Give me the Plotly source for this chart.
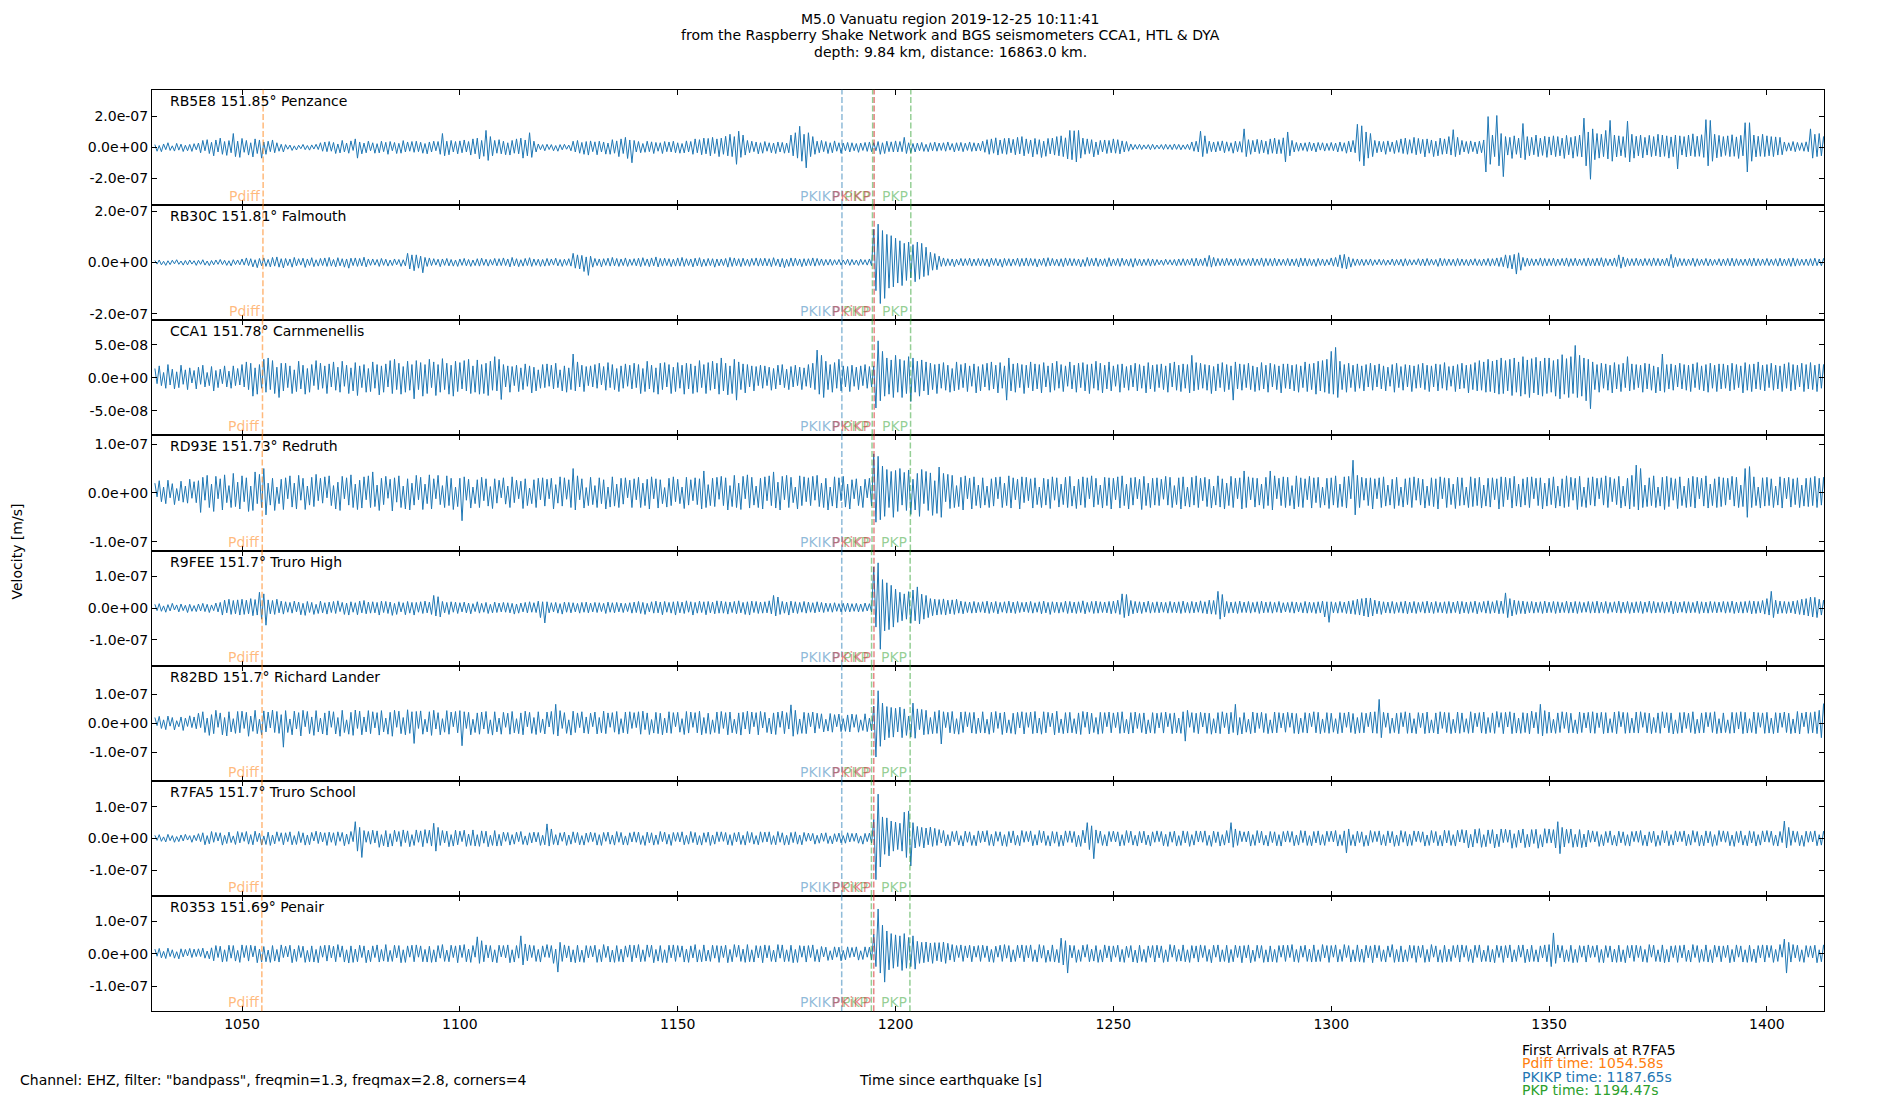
import numpy as np
import plotly.graph_objects as go
from plotly.subplots import make_subplots

# stations, top panel first
stations = ["RB5E8", "RB30C", "CCA1", "RD93E", "R9FEE", "R82BD", "R7FA5", "R0353"]
distances = ["151.85", "151.81", "151.78", "151.73", "151.7", "151.7", "151.7", "151.69"]
places = ["Penzance", "Falmouth", "Carnmenellis", "Redruth", "Truro High",
          "Richard Lander", "Truro School", "Penair"]

# phase arrival times [s] per station
pdiff_t = [1054.85, 1054.8, 1054.7, 1054.65, 1054.6, 1054.6, 1054.58, 1054.55]
pkikp_t = [1187.7, 1187.7, 1187.68, 1187.67, 1187.65, 1187.65, 1187.65, 1187.64]
pkikp_small_t = [1195.1, 1195.1, 1195.1, 1195.05, 1195.05, 1195.0, 1195.0, 1195.0]  # PKiKP
pkp_t = [1194.75, 1194.7, 1194.65, 1194.6, 1194.5, 1194.5, 1194.47, 1194.45]
pkp2_t = [1203.5, 1203.5, 1203.45, 1203.4, 1203.35, 1203.35, 1203.3, 1203.3]

# y half range [m/s] and tick step per panel
y_half = [3.74e-7, 2.25e-7, 8.74e-8, 1.18e-7, 1.82e-7, 2.0e-7, 1.82e-7, 1.78e-7]
y_step = [2e-7, 2e-7, 5e-8, 1e-7, 1e-7, 1e-7, 1e-7, 1e-7]
x_ticks = [1050, 1100, 1150, 1200, 1250, 1300, 1350, 1400]

t_start = 1030.0  # first sample [s]
t_step = 0.5      # sample spacing [s]

# filtered velocity, nm/s (one row = 10 s)
rb5e8 = [
    18,-25,12,-28,22,-15,30,-20,10,-24,26,-18,21,-27,14,-22,19,-26,24,-16,
    28,-35,45,-22,50,-40,33,-55,48,-30,60,-45,38,-52,44,-35,90,-60,40,-65,
    58,-32,45,-50,30,-62,55,-40,48,-70,35,-45,40,-28,48,-35,30,-25,20,-30,
    18,-12,15,-20,10,-17,14,-9,19,-15,12,-18,16,-11,20,-14,30,-25,35,-28,
    38,-25,32,-40,22,-36,45,-30,28,-38,42,-20,55,-70,35,-42,28,-35,40,-22,
    30,-38,24,-36,40,-28,33,-45,38,-22,32,-40,26,-38,44,-30,35,-25,38,-32,
    40,-28,33,-38,25,-42,35,-30,40,-22,38,-45,90,-55,40,-48,45,-30,38,-42,
    42,-35,48,-30,38,-50,55,-42,60,-75,45,-58,110,-85,70,-55,45,-38,50,-42,
    40,-48,30,-50,45,-38,55,-42,60,-70,48,-55,95,-65,40,-30,22,-15,18,-22,
    20,-14,18,-22,12,-25,18,-16,20,-12,15,-22,40,-30,45,-38,32,-45,38,-50,
    42,-28,36,-48,40,-30,35,-44,28,-45,50,-38,42,-60,55,-40,65,-72,48,-100,
    45,-30,38,-35,25,-32,40,-28,36,-40,32,-25,30,-40,38,-28,35,-30,40,-35,
    30,-38,25,-36,42,-30,38,-45,55,-35,50,-48,60,-42,58,-55,65,-40,55,-60,
    60,-45,72,-55,85,-60,70,-110,105,-65,80,-50,45,-35,40,-28,35,-42,30,-38,
    38,-25,30,-35,28,-40,35,-30,32,-38,28,-35,80,-55,95,-70,137,-90,85,-133,
    95,-60,70,-45,40,-35,45,-28,38,-40,30,-35,42,-25,30,-38,28,-22,32,-30,
    30,-22,25,-32,28,-20,32,-26,35,-28,30,-22,38,-45,30,-40,40,-28,36,-30,
    42,-30,38,-28,65,-40,30,-35,25,-30,28,-22,32,-26,20,-28,30,-22,34,-25,
    28,-20,30,-25,35,-18,25,-30,30,-22,32,-28,27,-20,35,-26,30,-24,28,-22,
    40,-32,50,-45,55,-38,62,-50,48,-40,58,-45,60,-35,52,-48,65,-42,70,-55,
    55,-40,48,-62,58,-45,50,-66,40,-58,58,-42,60,-50,70,-55,75,-60,62,-75,
    110,-80,108,-95,110,-70,60,-45,55,-40,50,-62,35,-48,45,-30,48,-40,45,-35,
    55,-38,50,-42,42,-30,38,-25,22,-15,18,-12,20,-14,16,-10,18,-15,20,-12,
    15,-10,18,-14,20,-12,17,-15,22,-13,19,-16,16,-12,20,-15,35,-25,40,-30,
    105,-60,75,-40,40,-28,35,-30,38,-22,42,-35,36,-25,30,-38,40,-28,38,-32,
    120,-60,50,-45,45,-30,52,-40,48,-35,40,-45,55,-38,60,-42,50,-40,62,-95,
    100,-55,45,-30,32,-25,28,-20,30,-26,35,-22,28,-30,32,-18,30,-24,26,-20,
    32,-22,28,-30,35,-25,30,-38,40,-30,45,-35,150,-90,140,-120,100,-70,90,-60,
    45,-35,40,-30,38,-45,42,-28,35,-40,45,-32,55,-40,60,-45,50,-38,65,-48,
    58,-40,52,-62,55,-38,48,-60,40,-55,60,-45,55,-42,70,-50,115,-60,65,-48,
    45,-30,38,-40,42,-28,35,-42,40,-35,48,-160,200,-110,80,-60,207,-120,90,-190,
    70,-50,65,-72,75,-45,60,-68,155,-80,70,-55,65,-48,80,-60,60,-52,72,-65,
    68,-50,75,-60,70,-55,60,-72,78,-48,65,-70,72,-58,80,-62,190,-120,100,-207,
    120,-80,90,-70,85,-60,110,-75,175,-90,80,-62,75,-55,70,-65,170,-95,85,-70,
    72,-55,80,-68,65,-50,78,-60,70,-55,85,-62,80,-58,75,-70,68,-60,80,-140,
    75,-50,70,-62,80,-55,88,-60,72,-58,82,-65,180,-120,175,-90,85,-68,78,-60,
    70,-52,75,-60,82,-58,68,-72,78,-55,160,-160,160,-90,80,-62,72,-58,85,-60,
    75,-55,70,-60,68,-50,65,-48,35,-25,30,-22,38,-28,32,-20,30,-25,36,-28,
    120,-70,85,-60,90,-55,70,-50,
]
rb30c = [
    8,-6,10,-9,5,-11,7,-8,9,-5,11,-7,6,-10,8,-9,10,-6,7,-11,
    9,-7,11,-10,6,-12,8,-9,10,-7,12,-8,9,-11,7,-13,11,-8,10,-9,
    14,-10,18,-12,15,-17,11,-20,16,-13,18,-15,12,-17,20,-14,22,-18,15,-21,
    16,-12,14,-18,20,-13,15,-10,17,-19,14,-12,19,-16,11,-14,16,-12,18,-15,
    20,-14,12,-17,19,-13,15,-18,14,-22,17,-12,18,-15,16,-13,21,-17,14,-11,
    14,-10,12,-15,16,-11,13,-14,10,-12,14,-9,12,-15,11,-13,36,-25,30,-32,
    30,-22,25,-40,20,-15,18,-12,15,-10,13,-16,14,-11,16,-13,12,-14,10,-15,
    14,-11,16,-13,12,-15,10,-12,15,-14,17,-11,13,-14,12,-10,16,-13,15,-12,
    18,-12,14,-17,20,-13,15,-16,11,-14,16,-12,19,-15,14,-11,13,-15,12,-14,
    16,-12,14,-10,17,-13,12,-15,13,-11,15,-14,36,-22,30,-25,28,-35,22,-50,
    25,-18,16,-12,14,-17,15,-11,17,-14,20,-13,16,-15,14,-12,18,-15,13,-11,
    15,-13,17,-16,19,-12,14,-16,18,-13,22,-17,16,-14,17,-12,15,-16,13,-14,
    18,-14,20,-15,15,-12,14,-17,17,-13,19,-16,13,-14,16,-12,15,-18,14,-13,
    14,-12,16,-18,20,-15,18,-13,15,-16,17,-12,13,-15,16,-11,18,-14,16,-13,
    17,-13,15,-16,19,-12,14,-17,16,-20,13,-15,18,-14,17,-12,14,-16,15,-13,
    15,-12,18,-14,16,-11,14,-12,12,-10,13,-11,11,-9,12,-10,10,-8,13,-11,
    12,-9,10,-11,13,-8,11,-10,14,-12,130,-110,150,-160,125,-140,110,-100,105,-95,
    95,-80,85,-90,75,-70,80,-60,70,-75,80,-65,75,-55,60,-50,40,-30,35,-28,
    25,-15,18,-14,15,-12,14,-16,13,-10,16,-13,15,-11,17,-14,14,-12,16,-13,
    15,-12,14,-16,17,-11,16,-13,13,-18,16,-12,15,-14,14,-11,17,-15,16,-13,
    18,-14,16,-12,15,-17,14,-11,17,-15,19,-13,16,-12,13,-14,15,-16,18,-12,
    16,-13,15,-12,14,-17,12,-15,20,-14,16,-13,18,-15,14,-12,15,-16,19,-14,
    14,-12,16,-15,17,-11,13,-14,15,-18,16,-12,14,-13,13,-11,15,-14,14,-12,
    12,-9,10,-11,13,-8,11,-10,12,-13,14,-11,15,-12,13,-10,16,-14,17,-13,
    14,-12,18,-15,28,-18,20,-14,16,-12,15,-13,17,-11,14,-12,15,-13,16,-12,
    13,-11,15,-13,17,-12,14,-11,18,-15,16,-12,15,-14,17,-13,14,-11,13,-12,
    16,-13,14,-12,15,-17,18,-13,17,-14,15,-12,13,-15,16,-11,14,-13,12,-10,
    18,-14,20,-16,30,-22,32,-25,22,-18,15,-12,14,-11,13,-12,12,-10,14,-12,
    11,-9,13,-10,12,-11,10,-9,14,-12,12,-10,13,-14,15,-12,12,-10,11,-9,
    15,-12,14,-13,16,-11,13,-10,12,-15,17,-13,15,-12,14,-11,13,-14,16,-12,
    14,-11,12,-13,13,-10,15,-12,12,-13,14,-11,16,-14,15,-12,18,-15,20,-16,
    30,-22,28,-25,32,-45,38,-30,20,-15,17,-13,15,-12,14,-11,18,-14,16,-13,
    15,-12,17,-14,14,-11,16,-13,18,-15,15,-12,17,-13,14,-11,16,-14,18,-13,
    15,-13,17,-12,19,-16,16,-12,14,-13,18,-15,30,-22,22,-16,16,-13,15,-12,
    17,-12,14,-13,16,-11,15,-14,18,-12,16,-13,14,-12,17,-14,32,-20,20,-15,
    16,-12,15,-13,14,-11,17,-15,15,-12,13,-11,16,-13,14,-12,12,-10,15,-13,
    14,-12,16,-13,17,-14,15,-12,13,-11,14,-12,16,-14,17,-13,15,-12,14,-11,
    16,-12,13,-11,15,-14,17,-13,14,-12,16,-15,18,-14,15,-12,13,-11,14,-12,
    15,-13,17,-12,14,-13,16,-12,
]
cca1 = [
    14,-9,18,-12,8,-16,20,-11,13,-17,9,-15,19,-10,12,-18,15,-8,11,-17,
    16,-10,19,-14,8,-12,17,-20,11,-15,13,-9,18,-14,10,-16,18,-12,14,-11,
    20,-14,24,-18,22,-28,15,-25,20,-16,28,-22,30,-18,26,-24,16,-30,22,-20,
    22,-15,18,-24,12,-21,25,-17,19,-25,14,-22,20,-12,26,-18,22,-16,18,-24,
    21,-14,24,-19,16,-22,25,-13,19,-24,15,-20,23,-27,18,-15,20,-22,14,-21,
    24,-16,20,-26,18,-22,21,-14,26,-24,28,-18,22,-25,17,-22,25,-19,20,-32,
    26,-18,23,-28,20,-24,28,-15,24,-27,20,-22,29,-18,22,-25,19,-28,25,-21,
    23,-17,26,-20,28,-24,18,-22,27,-25,20,-24,22,-27,25,-19,32,-20,28,-33,
    20,-14,18,-22,17,-12,19,-21,15,-18,21,-13,18,-23,16,-20,12,-16,20,-15,
    21,-13,19,-17,22,-15,12,-20,18,-22,15,-18,36,-20,24,-14,19,-21,17,-12,
    18,-14,20,-16,22,-11,17,-19,23,-15,20,-18,14,-21,18,-16,21,-13,19,-17,
    22,-15,20,-24,14,-21,25,-17,19,-22,15,-25,22,-18,23,-14,20,-24,16,-21,
    23,-16,19,-25,22,-17,21,-24,18,-22,26,-15,20,-24,23,-19,25,-17,22,-25,
    30,-20,22,-26,18,-24,28,-34,24,-18,21,-23,20,-14,18,-20,17,-12,19,-16,
    18,-12,16,-19,14,-17,19,-11,20,-15,13,-18,17,-14,19,-12,16,-18,15,-13,
    20,-15,22,-18,42,-25,34,-30,25,-18,20,-22,23,-16,28,-20,18,-14,17,-21,
    19,-13,16,-18,18,-12,20,-16,17,-14,18,-46,56,-35,40,-28,30,-25,27,-30,
    34,-22,28,-30,26,-24,32,-36,30,-22,25,-28,27,-20,24,-26,22,-18,20,-24,
    21,-16,23,-19,19,-22,14,-20,24,-18,20,-15,22,-21,18,-13,21,-23,17,-20,
    20,-14,22,-19,24,-17,19,-23,23,-16,18,-34,30,-20,21,-22,22,-15,20,-24,
    19,-15,24,-20,21,-17,20,-23,23,-14,18,-22,22,-19,25,-16,20,-21,18,-13,
    24,-17,19,-22,22,-15,23,-20,20,-24,21,-16,25,-19,22,-23,19,-17,24,-20,
    18,-13,20,-22,21,-15,17,-19,19,-14,22,-20,20,-16,18,-23,23,-17,19,-21,
    20,-15,21,-18,18,-22,22,-14,24,-19,19,-21,21,-16,20,-23,34,-20,23,-18,
    22,-16,20,-19,19,-24,17,-20,21,-15,23,-21,20,-18,18,-34,24,-17,21,-19,
    20,-15,22,-18,18,-21,16,-19,23,-17,19,-22,22,-14,20,-18,18,-23,21,-16,
    21,-17,19,-20,20,-22,18,-15,24,-21,21,-18,22,-25,25,-20,26,-22,28,-24,
    40,-25,46,-30,25,-18,20,-22,22,-15,19,-21,21,-16,18,-20,20,-14,22,-19,
    19,-14,21,-17,18,-20,16,-13,20,-22,22,-15,17,-19,20,-14,19,-21,18,-16,
    20,-15,22,-18,19,-21,18,-14,21,-20,20,-16,23,-19,17,-13,18,-21,20,-17,
    22,-16,19,-23,20,-18,23,-20,26,-19,24,-22,28,-21,25,-23,27,-25,30,-24,
    26,-20,28,-27,30,-22,24,-28,32,-25,27,-30,29,-23,31,-26,25,-28,30,-24,
    30,-22,26,-28,28,-32,35,-25,29,-30,32,-24,49,-30,34,-28,30,-35,28,-47,
    24,-18,20,-22,22,-16,21,-19,19,-23,23,-17,20,-21,22,-15,32,-20,21,-18,
    20,-15,19,-22,22,-17,21,-19,18,-23,16,-20,36,-22,20,-17,21,-19,19,-14,
    22,-17,20,-19,19,-21,21,-15,23,-18,18,-20,20,-22,22,-16,19,-21,21,-17,
    21,-16,19,-20,22,-18,20,-15,18,-23,23,-19,20,-21,21,-17,24,-18,19,-20,
    20,-15,22,-19,19,-17,18,-21,21,-16,23,-20,20,-18,19,-14,22,-21,20,-17,
    23,-18,19,-21,21,-16,20,-19,
]
rd93e = [
    20,-8,25,-18,12,-22,26,-10,19,-24,9,-16,24,-19,14,-21,28,-11,23,-20,
    25,-40,32,-15,36,-30,18,-38,34,-12,29,-35,37,-20,15,-30,40,-28,22,-33,
    35,-18,31,-38,14,-36,43,-22,38,-30,50,-45,20,-25,30,-36,12,-22,28,-34,
    31,-12,35,-29,20,-33,36,-15,30,-34,14,-25,32,-28,38,-16,30,-21,33,-10,
    35,-26,15,-33,22,-36,34,-12,31,-25,37,-30,18,-34,26,-31,33,-14,35,-30,
    43,-28,16,-36,30,-24,34,-11,28,-37,31,-19,35,-30,14,-33,29,-35,20,-25,
    36,-14,32,-34,18,-22,37,-33,29,-12,36,-24,15,-30,35,-26,30,-34,12,-28,
    30,-57,33,-15,28,-31,12,-22,27,-30,32,-16,29,-27,13,-32,29,-21,26,-10,
    31,-23,14,-30,33,-20,26,-12,24,-32,29,-26,10,-22,27,-30,30,-14,31,-27,
    28,-12,30,-33,17,-21,33,-27,31,-13,27,-30,50,-35,35,-14,29,-31,11,-26,
    32,-24,15,-30,31,-22,27,-33,12,-29,33,-27,18,-30,30,-23,31,-10,26,-30,
    29,-14,32,-30,20,-26,28,-33,33,-12,29,-31,27,-22,11,-29,30,-26,33,-18,
    28,-22,12,-32,32,-25,27,-16,31,-24,29,-33,45,-30,17,-26,30,-28,32,-13,
    34,-26,31,-35,15,-28,36,-30,20,-34,34,-12,37,-31,32,-25,14,-30,30,-33,
    33,-16,35,-26,43,-31,22,-35,34,-14,36,-30,32,-20,12,-33,35,-26,33,-18,
    31,-26,34,-15,36,-28,20,-30,30,-35,12,-27,33,-31,31,-16,34,-29,18,-33,
    27,-12,29,-26,14,-30,28,-10,30,-27,80,-60,75,-55,55,-48,48,-30,44,-50,
    46,-38,50,-25,42,-36,47,-44,28,-35,40,-48,48,-22,44,-36,41,-46,25,-42,
    53,-50,40,-18,38,-32,36,-30,15,-28,32,-35,35,-12,30,-33,33,-26,16,-31,
    31,-25,14,-30,29,-27,32,-12,33,-30,20,-26,35,-31,31,-14,28,-33,33,-20,
    32,-16,29,-31,31,-24,12,-30,30,-25,28,-32,33,-15,31,-29,18,-24,32,-30,
    34,-27,14,-32,28,-25,33,-30,31,-12,35,-29,30,-24,16,-31,32,-26,31,-33,
    30,-14,33,-31,35,-26,18,-33,31,-25,32,-12,28,-34,34,-26,20,-30,30,-25,
    31,-26,28,-13,34,-25,32,-30,15,-24,31,-33,33,-27,12,-29,32,-25,35,-30,
    30,-16,32,-28,28,-31,14,-25,35,-29,29,-33,20,-26,34,-30,30,-12,31,-33,
    45,-30,33,-14,31,-29,30,-25,18,-32,32,-26,45,-35,35,-12,30,-26,33,-30,
    32,-26,15,-33,35,-28,31,-30,29,-14,34,-31,31,-20,32,-30,12,-25,30,-32,
    31,-25,35,-30,18,-28,33,-31,34,-12,67,-45,36,-30,32,-15,30,-26,31,-33,
    29,-12,31,-30,33,-27,16,-25,28,-32,32,-26,12,-29,29,-24,31,-30,33,-15,
    30,-25,28,-31,14,-26,31,-28,29,-33,33,-12,31,-30,30,-24,18,-32,32,-26,
    31,-25,12,-30,33,-28,30,-26,32,-31,16,-27,30,-29,31,-14,29,-33,33,-28,
    32,-14,30,-31,34,-27,18,-29,29,-25,32,-30,33,-12,30,-26,31,-33,20,-27,
    30,-24,33,-31,14,-27,29,-30,35,-28,32,-15,30,-34,34,-28,12,-30,31,-25,
    33,-27,30,-12,31,-25,35,-30,32,-18,29,-24,34,-31,14,-27,30,-33,36,-28,
    57,-35,50,-30,16,-28,31,-26,35,-30,12,-27,32,-34,34,-28,31,-15,29,-32,
    33,-26,14,-30,30,-28,34,-31,32,-12,30,-27,35,-31,18,-26,29,-30,33,-28,
    31,-25,30,-14,34,-27,32,-30,16,-28,50,-50,54,-30,33,-26,12,-31,31,-27,
    32,-26,29,-30,14,-25,33,-31,30,-12,32,-29,29,-24,31,-30,16,-27,30,-28,
    31,-26,34,-30,30,-25,32,-29,
]
r9fee = [
    12,-8,14,-10,7,-13,11,-9,15,-6,10,-12,13,-8,9,-14,12,-10,8,-11,
    13,-9,15,-11,12,-14,10,-8,16,-12,18,-22,25,-15,28,-20,24,-18,26,-22,
    28,-20,25,-18,30,-24,27,-22,50,-35,45,-54,26,-18,24,-20,28,-15,22,-19,
    20,-13,18,-16,22,-12,19,-21,15,-23,21,-14,18,-20,12,-17,22,-15,17,-19,
    19,-14,21,-17,23,-11,18,-20,16,-22,20,-13,17,-21,22,-15,24,-18,19,-16,
    20,-15,18,-22,22,-14,21,-17,19,-23,15,-20,20,-12,17,-21,21,-16,18,-22,
    18,-13,20,-17,22,-15,19,-20,40,-25,36,-28,21,-15,18,-20,20,-13,19,-17,
    17,-12,19,-15,16,-18,14,-11,20,-16,15,-13,18,-17,12,-15,19,-14,16,-12,
    18,-13,17,-15,15,-19,13,-16,16,-12,18,-15,20,-13,17,-14,22,-30,20,-47,
    20,-15,17,-12,18,-16,14,-19,19,-13,18,-15,17,-12,15,-16,18,-13,19,-15,
    16,-12,18,-14,17,-11,15,-17,19,-13,17,-15,18,-12,16,-14,15,-11,17,-16,
    19,-14,21,-17,18,-20,15,-12,20,-16,22,-15,19,-21,21,-13,18,-16,20,-22,
    21,-15,19,-17,23,-13,20,-22,18,-16,22,-14,20,-21,21,-15,19,-18,23,-16,
    22,-16,20,-19,19,-14,21,-18,23,-15,18,-20,20,-22,22,-14,21,-17,19,-16,
    20,-15,23,-18,40,-25,35,-20,21,-16,19,-22,22,-15,20,-17,18,-13,21,-16,
    19,-13,17,-15,20,-12,18,-14,16,-11,15,-13,17,-10,14,-12,15,-11,16,-12,
    14,-10,15,-12,13,-11,16,-9,14,-12,130,-60,143,-130,90,-72,80,-68,72,-60,
    60,-45,50,-40,45,-35,52,-48,57,-40,67,-50,44,-35,40,-30,30,-24,28,-22,
    27,-20,29,-22,25,-18,26,-20,28,-16,22,-18,20,-14,19,-16,21,-15,18,-13,
    20,-15,22,-17,19,-14,21,-18,18,-13,20,-16,22,-15,19,-17,21,-14,18,-12,
    19,-14,21,-16,17,-13,20,-18,22,-15,18,-20,20,-14,19,-16,18,-13,22,-17,
    21,-15,19,-17,20,-14,23,-18,18,-13,21,-17,22,-16,20,-14,19,-15,21,-18,
    22,-16,25,-20,45,-30,43,-25,24,-18,21,-15,20,-17,19,-13,22,-16,18,-14,
    20,-15,19,-13,18,-16,21,-14,19,-15,20,-17,22,-14,18,-16,21,-15,19,-13,
    23,-16,20,-18,25,-19,24,-20,53,-35,43,-28,21,-16,19,-15,20,-17,22,-14,
    19,-14,21,-16,18,-13,20,-17,22,-15,19,-14,20,-16,18,-13,21,-15,17,-12,
    18,-14,20,-16,19,-12,17,-15,21,-16,19,-14,18,-17,20,-15,22,-28,20,-45,
    20,-15,18,-16,21,-14,19,-17,22,-18,24,-20,28,-22,30,-25,32,-28,32,-25,
    25,-18,22,-20,20,-15,19,-16,21,-17,18,-14,20,-16,22,-18,19,-15,21,-17,
    18,-13,20,-16,22,-15,19,-17,21,-14,18,-15,20,-17,21,-16,19,-14,22,-18,
    21,-15,19,-17,20,-14,22,-18,18,-13,21,-16,23,-17,20,-15,24,-18,22,-17,
    48,-30,30,-25,25,-20,23,-17,22,-18,20,-15,21,-16,19,-14,20,-17,22,-15,
    19,-14,21,-17,20,-15,18,-14,22,-16,19,-15,21,-17,20,-14,18,-13,21,-16,
    20,-15,22,-16,19,-14,21,-17,18,-13,20,-15,22,-16,19,-14,21,-17,18,-15,
    20,-14,21,-17,19,-13,22,-16,21,-15,18,-14,20,-16,19,-13,22,-18,20,-15,
    19,-13,21,-16,20,-15,18,-14,22,-17,20,-15,19,-16,21,-14,20,-15,19,-13,
    21,-16,20,-14,22,-17,19,-15,20,-16,21,-14,23,-18,22,-17,21,-15,24,-19,
    30,-22,53,-30,25,-18,22,-16,21,-17,20,-15,22,-18,24,-20,28,-22,30,-25,
    35,-28,34,-30,28,-22,25,-20,
]
r82bd = [
    20,-8,24,-18,12,-22,25,-10,20,-23,9,-12,22,-25,18,-11,26,-15,22,-19,
    35,-15,40,-32,18,-42,30,-36,45,-14,36,-40,20,-44,40,-30,16,-35,41,-33,
    42,-18,38,-45,25,-28,45,-36,14,-40,43,-30,39,-16,46,-32,41,-35,30,-83,
    44,-32,15,-40,42,-20,37,-44,45,-12,41,-36,22,-42,44,-30,18,-37,36,-41,
    43,-14,40,-37,20,-45,45,-32,12,-38,38,-42,46,-18,42,-40,22,-30,44,-36,
    40,-16,37,-41,44,-30,18,-38,38,-45,45,-14,42,-36,20,-40,47,-35,40,-70,
    41,-18,43,-38,14,-30,40,-42,45,-20,37,-40,16,-31,44,-38,39,-12,41,-33,
    44,-78,40,-18,38,-40,14,-32,36,-38,39,-20,41,-36,12,-41,40,-30,18,-38,
    38,-14,35,-38,41,-33,16,-36,36,-40,42,-12,38,-35,20,-39,40,-32,15,-37,
    39,-13,41,-38,66,-44,44,-18,37,-35,12,-41,42,-32,36,-15,40,-34,22,-36,
    35,-12,39,-37,20,-33,42,-36,36,-14,37,-31,41,-38,16,-33,39,-36,40,-18,
    37,-15,40,-38,42,-22,36,-39,13,-34,38,-36,35,-40,18,-33,40,-35,37,-12,
    38,-31,16,-39,41,-34,39,-14,37,-33,42,-40,20,-35,35,-38,12,-32,39,-36,
    41,-18,37,-40,39,-33,14,-36,36,-41,38,-20,42,-37,39,-12,37,-40,41,-16,
    38,-32,18,-37,36,-39,39,-14,42,-36,37,-20,64,-45,45,-38,15,-35,38,-36,
    36,-12,39,-34,35,-18,33,-30,14,-27,34,-31,30,-12,32,-29,16,-28,29,-30,
    32,-14,30,-31,12,-25,33,-29,18,-27,60,-117,113,-80,70,-58,58,-50,55,-48,
    52,-30,56,-50,50,-42,25,-48,70,-52,50,-22,48,-40,45,-38,20,-36,40,-35,
    45,-72,40,-15,38,-33,41,-36,16,-38,39,-32,40,-12,37,-34,38,-36,18,-33,
    40,-34,14,-38,38,-32,41,-18,36,-39,39,-33,12,-35,35,-38,38,-16,40,-37,
    37,-14,39,-36,41,-34,18,-38,40,-33,38,-12,35,-40,42,-33,15,-36,37,-34,
    38,-33,16,-36,36,-39,41,-14,39,-37,35,-32,20,-38,38,-35,37,-12,39,-33,
    36,-15,38,-35,40,-33,14,-37,37,-34,39,-18,34,-32,36,-37,12,-33,37,-35,
    35,-16,37,-34,39,-12,34,-36,36,-33,18,-35,40,-62,45,-14,37,-32,35,-36,
    38,-13,36,-35,35,-38,16,-34,37,-36,40,-15,36,-37,38,-32,66,-41,20,-37,
    37,-31,14,-36,39,-33,36,-18,38,-32,34,-36,12,-34,39,-33,37,-16,35,-31,
    38,-14,36,-35,34,-37,18,-32,37,-34,35,-12,40,-33,38,-36,15,-32,37,-35,
    35,-31,16,-36,37,-33,36,-14,39,-32,34,-36,20,-34,37,-33,35,-12,39,-34,
    40,-35,83,-50,38,-14,36,-35,18,-32,35,-36,37,-12,40,-35,36,-34,16,-36,
    37,-15,35,-36,39,-34,12,-33,36,-37,40,-18,38,-32,37,-36,14,-33,39,-35,
    36,-31,16,-35,40,-33,35,-12,37,-34,39,-36,20,-32,36,-35,41,-14,37,-36,
    38,-13,40,-36,36,-34,18,-35,37,-32,35,-37,42,-16,38,-36,66,-44,44,-35,
    39,-33,14,-35,36,-32,40,-18,38,-34,35,-33,12,-36,39,-32,36,-16,38,-34,
    40,-35,36,-15,38,-36,37,-34,16,-32,39,-36,41,-12,38,-35,37,-34,18,-33,
    39,-34,40,-14,37,-33,35,-36,20,-32,36,-35,40,-16,37,-33,36,-37,12,-35,
    37,-33,38,-18,35,-32,40,-36,14,-34,36,-33,38,-12,37,-32,40,-36,16,-34,
    36,-32,12,-35,38,-34,37,-20,40,-36,38,-34,16,-32,39,-36,37,-14,36,-35,
    38,-34,18,-36,37,-33,36,-14,39,-32,35,-36,15,-34,41,-37,36,-12,39,-35,
    37,-33,40,-36,45,-50,68,-40,
]
r7fa5 = [
    10,-6,12,-9,5,-11,13,-7,9,-12,6,-10,11,-8,13,-5,9,-12,10,-7,
    15,-10,18,-20,9,-17,22,-12,19,-8,18,-21,10,-16,20,-13,8,-19,22,-14,
    19,-9,22,-18,12,-20,23,-10,17,-21,8,-19,20,-22,11,-17,21,-9,18,-20,
    18,-10,21,-20,9,-19,22,-13,18,-21,11,-20,19,-8,23,-16,20,-11,18,-22,
    20,-12,18,-22,21,-9,19,-23,14,-18,22,-10,53,-40,35,-60,25,-12,22,-18,
    26,-14,24,-28,12,-23,25,-27,15,-24,26,-10,22,-25,27,-13,24,-26,12,-22,
    27,-12,24,-26,28,-15,26,-24,48,-40,35,-22,25,-14,23,-26,12,-24,26,-20,
    23,-10,26,-25,14,-22,27,-24,12,-25,24,-15,23,-26,10,-22,25,-24,13,-23,
    20,-9,19,-21,12,-18,20,-10,22,-19,8,-21,18,-14,20,-11,19,-22,10,-20,
    46,-24,30,-19,12,-21,18,-9,20,-22,11,-18,21,-13,19,-20,9,-21,17,-12,
    20,-10,18,-21,12,-22,19,-9,20,-18,11,-21,22,-12,19,-20,8,-21,18,-11,
    21,-12,20,-19,9,-22,20,-14,18,-21,11,-19,22,-10,20,-18,13,-22,19,-9,
    19,-11,21,-20,10,-18,22,-13,19,-20,9,-21,18,-12,20,-22,11,-18,21,-10,
    21,-9,19,-20,12,-22,18,-11,20,-19,10,-21,22,-13,19,-18,9,-20,21,-12,
    20,-11,21,-19,9,-20,22,-12,18,-21,10,-20,19,-13,21,-18,11,-20,19,-9,
    17,-8,16,-18,10,-15,17,-9,18,-16,8,-17,15,-10,17,-14,9,-15,18,-11,
    16,-9,17,-15,8,-18,16,-10,17,-14,60,-130,140,-90,68,-50,65,-55,55,-40,
    52,-35,48,-40,83,-60,87,-87,50,-30,38,-25,35,-30,33,-20,36,-25,32,-22,
    28,-14,25,-24,12,-23,22,-10,24,-21,9,-24,23,-12,21,-22,10,-23,24,-13,
    23,-11,25,-22,13,-24,22,-9,21,-23,12,-25,22,-14,24,-21,10,-23,25,-12,
    22,-10,24,-23,12,-21,25,-13,23,-22,9,-24,22,-15,21,-25,11,-23,24,-12,
    24,-13,22,-26,10,-25,26,-14,50,-35,40,-64,27,-15,23,-22,12,-24,22,-10,
    23,-11,21,-24,12,-22,25,-13,23,-21,10,-24,22,-14,23,-20,11,-24,21,-12,
    24,-10,22,-23,13,-25,21,-12,23,-24,9,-22,24,-14,22,-25,12,-21,24,-11,
    23,-12,24,-22,10,-25,23,-13,21,-24,12,-21,25,-14,50,-28,30,-22,24,-10,
    21,-11,23,-24,12,-22,25,-14,23,-21,10,-24,22,-13,21,-23,12,-24,22,-11,
    24,-12,22,-23,11,-21,25,-13,24,-22,9,-23,22,-14,24,-21,12,-22,23,-10,
    23,-11,25,-24,12,-22,24,-46,30,-22,12,-24,23,-13,21,-25,10,-23,25,-12,
    22,-10,24,-21,12,-23,24,-14,22,-25,11,-23,25,-12,22,-24,13,-22,24,-10,
    23,-12,21,-24,11,-22,25,-13,22,-23,10,-24,26,-14,25,-22,12,-24,26,-11,
    28,-14,26,-30,13,-27,29,-15,31,-28,12,-26,27,-16,28,-30,14,-26,30,-13,
    29,-12,27,-31,15,-28,26,-14,30,-29,13,-27,28,-16,29,-31,12,-27,31,-15,
    30,-14,28,-30,53,-48,35,-27,29,-15,30,-28,13,-26,28,-29,14,-27,26,-12,
    24,-11,22,-25,12,-23,22,-13,24,-21,10,-24,23,-14,21,-22,12,-24,22,-10,
    23,-12,25,-22,11,-24,21,-13,23,-25,10,-22,25,-14,24,-23,12,-21,24,-11,
    22,-10,24,-23,13,-21,25,-12,22,-24,11,-23,24,-14,22,-25,12,-22,25,-10,
    24,-12,22,-23,11,-25,22,-13,24,-21,10,-23,24,-14,22,-24,12,-21,24,-11,
    25,-12,23,-22,11,-24,22,-13,55,-30,35,-22,24,-12,22,-23,10,-25,23,-12,
    22,-11,24,-23,12,-21,23,-10,
]
r0353 = [
    14,-8,16,-13,7,-15,17,-9,12,-14,6,-16,15,-10,13,-7,16,-12,14,-9,
    15,-9,17,-14,8,-16,18,-22,25,-12,23,-26,12,-24,26,-14,25,-23,10,-27,
    27,-12,25,-23,26,-10,24,-28,14,-26,22,-25,11,-27,25,-23,13,-26,27,-12,
    23,-10,26,-28,14,-24,25,-12,23,-27,10,-25,24,-26,13,-28,24,-11,26,-23,
    26,-13,23,-25,28,-11,24,-26,12,-29,24,-27,14,-25,26,-12,24,-28,11,-25,
    24,-12,27,-26,13,-23,28,-25,10,-24,26,-13,25,-28,12,-27,24,-11,26,-25,
    27,-11,24,-25,13,-26,23,-27,12,-26,25,-14,28,-24,11,-25,26,-12,24,-28,
    26,-12,28,-25,14,-27,25,-11,52,-30,40,-25,27,-13,25,-26,12,-28,26,-10,
    25,-13,27,-28,12,-26,25,-14,55,-35,30,-22,27,-12,25,-24,13,-26,24,-11,
    28,-12,25,-30,14,-57,35,-24,27,-13,24,-26,12,-28,26,-25,11,-27,25,-13,
    24,-10,26,-27,13,-25,28,-12,23,-26,11,-27,25,-24,14,-26,24,-11,27,-25,
    26,-13,28,-25,12,-24,27,-11,26,-28,13,-23,25,-27,12,-28,26,-13,27,-24,
    25,-11,24,-26,14,-27,24,-13,28,-26,12,-25,27,-23,11,-24,26,-14,25,-27,
    24,-12,26,-28,13,-25,28,-11,26,-24,14,-27,28,-25,12,-26,25,-13,24,-28,
    27,-13,25,-24,11,-26,28,-14,27,-25,12,-24,26,-28,13,-27,25,-11,24,-26,
    25,-12,27,-24,13,-26,22,-10,20,-21,9,-19,21,-11,20,-22,10,-19,21,-12,
    19,-10,21,-20,9,-18,21,-11,20,-19,60,-40,138,-60,88,-88,70,-50,62,-45,
    58,-40,55,-52,62,-45,50,-40,55,-48,38,-30,35,-28,36,-25,33,-30,34,-22,
    34,-25,36,-30,32,-20,28,-25,25,-12,27,-24,24,-13,26,-25,23,-11,25,-24,
    26,-12,24,-25,13,-27,23,-11,26,-24,28,-14,25,-26,12,-24,26,-13,27,-25,
    25,-13,27,-24,12,-26,28,-14,25,-27,11,-24,27,-26,13,-28,48,-35,40,-60,
    26,-13,25,-27,12,-24,26,-11,28,-25,14,-23,25,-27,12,-26,27,-13,24,-25,
    24,-11,26,-25,13,-27,23,-12,25,-26,11,-28,26,-24,13,-27,24,-12,25,-26,
    26,-13,24,-27,12,-25,28,-11,26,-24,13,-23,27,-25,12,-27,25,-14,24,-26,
    27,-12,25,-24,13,-28,26,-11,27,-25,12,-24,26,-28,13,-25,26,-12,24,-28,
    25,-13,27,-28,11,-24,26,-14,25,-27,12,-26,24,-25,13,-27,25,-11,26,-24,
    26,-12,28,-25,13,-27,24,-11,26,-24,14,-26,27,-25,12,-24,28,-13,25,-27,
    25,-11,27,-26,13,-24,28,-12,25,-26,12,-24,27,-25,14,-27,26,-13,24,-28,
    27,-13,25,-24,12,-26,24,-11,28,-27,13,-25,24,-26,12,-24,26,-14,25,-27,
    24,-12,26,-27,13,-25,28,-11,24,-26,12,-27,26,-25,14,-24,25,-12,27,-26,
    27,-11,25,-24,13,-28,26,-12,27,-25,11,-24,25,-26,13,-28,26,-12,24,-27,
    25,-13,27,-26,12,-24,26,-11,27,-28,14,-25,26,-24,12,-26,24,-13,27,-25,
    28,-40,64,-30,27,-13,25,-26,12,-24,26,-28,13,-27,25,-11,24,-26,27,-12,
    24,-11,26,-27,13,-28,25,-12,24,-26,14,-27,26,-25,12,-28,25,-13,26,-24,
    26,-12,24,-25,13,-27,28,-11,26,-24,12,-25,27,-28,13,-26,24,-12,25,-27,
    25,-13,27,-24,11,-26,28,-12,25,-27,13,-24,27,-26,12,-28,26,-11,24,-25,
    24,-12,26,-28,13,-25,27,-11,24,-26,12,-27,26,-24,14,-28,25,-13,27,-26,
    26,-12,25,-27,13,-24,28,-11,45,-60,35,-26,28,-13,26,-24,12,-27,25,-11,
    24,-13,26,-28,12,-25,27,-11,
]
traces = [rb5e8, rb30c, cca1, rd93e, r9fee, r82bd, r7fa5, r0353]

FONT = "DejaVu Sans"
C_TRACE = "#1f77b4"
phases = [
    ("Pdiff", pdiff_t, "rgba(255,127,14,0.55)"),
    ("PKIKP", pkikp_t, "rgba(31,119,180,0.5)"),
    ("PKP", pkp_t, "rgba(44,160,44,0.5)"),
    ("PKiKP", pkikp_small_t, "rgba(214,39,40,0.55)"),
    ("PKP", pkp2_t, "rgba(44,160,44,0.5)"),
]

# page body has an 8px margin, so place everything relative to that
W, H, OFF = 1892, 1092, 8


def fx(px):
    return (px - OFF) / W


def fy(py):
    return 1 - (py - OFF) / H


n = len(traces)
fig = make_subplots(rows=n, cols=1, shared_xaxes=True, vertical_spacing=0)

top, ph = 88, 115.5  # first panel top and panel height, in pixels

for i, vals in enumerate(traces):
    r = i + 1
    t = t_start + t_step * np.arange(len(vals))
    v = np.array(vals) * 1e-9
    fig.add_trace(go.Scatter(x=t, y=v, mode="lines",
                             line=dict(color=C_TRACE, width=1),
                             showlegend=False, hoverinfo="skip"), row=r, col=1)

    tv = [y_step[i], 0.0, -y_step[i]]
    fig.update_yaxes(row=r, col=1,
                     domain=[fy(top + (i + 1) * ph), fy(top + i * ph)],
                     range=[-y_half[i], y_half[i]],
                     tickvals=tv, ticktext=[f"{a:.1e}" for a in tv],
                     ticks="inside", ticklen=5, tickwidth=1, tickcolor="black",
                     showline=True, linecolor="black", linewidth=1, mirror="ticks",
                     showgrid=False, zeroline=False, ticklabelstandoff=0,
                     tickfont=dict(family=FONT, size=14, color="black"))
    fig.update_xaxes(row=r, col=1, domain=[fx(152), fx(1824)],
                     range=[1029.34, 1413.1], tickvals=x_ticks,
                     ticks="inside", ticklen=5, tickwidth=1, tickcolor="black",
                     showline=True, linecolor="black", linewidth=1, mirror="ticks",
                     showgrid=False, zeroline=False,
                     showticklabels=(r == n), ticklabelstandoff=0,
                     tickfont=dict(family=FONT, size=14, color="black"))

    xref = "x" if r == 1 else f"x{r}"
    yref = ("y" if r == 1 else f"y{r}") + " domain"

    # arrival markers and their labels
    for label, times, col in phases:
        fig.add_shape(type="line", xref=xref, yref=yref,
                      x0=times[i], x1=times[i], y0=0, y1=1,
                      line=dict(color=col, width=1.5, dash="6px,2.5px"))
        fig.add_annotation(x=times[i], y=0, xref=xref, yref=yref,
                           text=label, showarrow=False,
                           xanchor="right", yanchor="bottom", xshift=-1, yshift=-1,
                           font=dict(family=FONT, size=14, color=col))

    fig.add_annotation(x=fx(168), y=1, xref="paper", yref=yref,
                       text=f"{stations[i]} {distances[i]}° {places[i]}",
                       showarrow=False, xanchor="left", yanchor="top", yshift=-1,
                       font=dict(family=FONT, size=14, color="black"))

titles = ["M5.0 Vanuatu region 2019-12-25 10:11:41",
          "from the Raspberry Shake Network and BGS seismometers CCA1, HTL & DYA",
          "depth: 9.84 km, distance: 16863.0 km."]
for k, s in enumerate(titles):
    fig.add_annotation(x=fx(950), y=fy(17 + 16.5 * k), xref="paper", yref="paper",
                       text=s, showarrow=False, xanchor="center", yanchor="middle",
                       font=dict(family=FONT, size=14, color="black"))

fig.add_annotation(x=fx(17), y=fy(551), xref="paper", yref="paper",
                   text="Velocity [m/s]", textangle=-90, showarrow=False,
                   xanchor="center", yanchor="middle",
                   font=dict(family=FONT, size=14, color="black"))
fig.add_annotation(x=fx(18), y=fy(1081), xref="paper", yref="paper",
                   text='Channel: EHZ, filter: "bandpass", freqmin=1.3, freqmax=2.8, corners=4',
                   showarrow=False, xanchor="left", yanchor="middle",
                   font=dict(family=FONT, size=14, color="black"))
fig.add_annotation(x=fx(950), y=fy(1081), xref="paper", yref="paper",
                   text="Time since earthquake [s]", showarrow=False,
                   xanchor="center", yanchor="middle",
                   font=dict(family=FONT, size=14, color="black"))

arrivals_box = [("First Arrivals at R7FA5", "black"),
                ("Pdiff time: 1054.58s", "#ff7f0e"),
                ("PKIKP time: 1187.65s", "#1f77b4"),
                ("PKP time: 1194.47s", "#2ca02c")]
for k, (s, col) in enumerate(arrivals_box):
    fig.add_annotation(x=fx(1520), y=fy(1051 + 13.4 * k),
                       xref="paper", yref="paper", text=s, showarrow=False,
                       xanchor="left", yanchor="middle",
                       font=dict(family=FONT, size=14, color=col))

fig.update_layout(width=W, height=H,
                  margin=dict(l=0, r=0, t=0, b=0),
                  plot_bgcolor="white", paper_bgcolor="white",
                  font=dict(family=FONT, size=14, color="black"),
                  showlegend=False)

fig.write_html("out.html")
